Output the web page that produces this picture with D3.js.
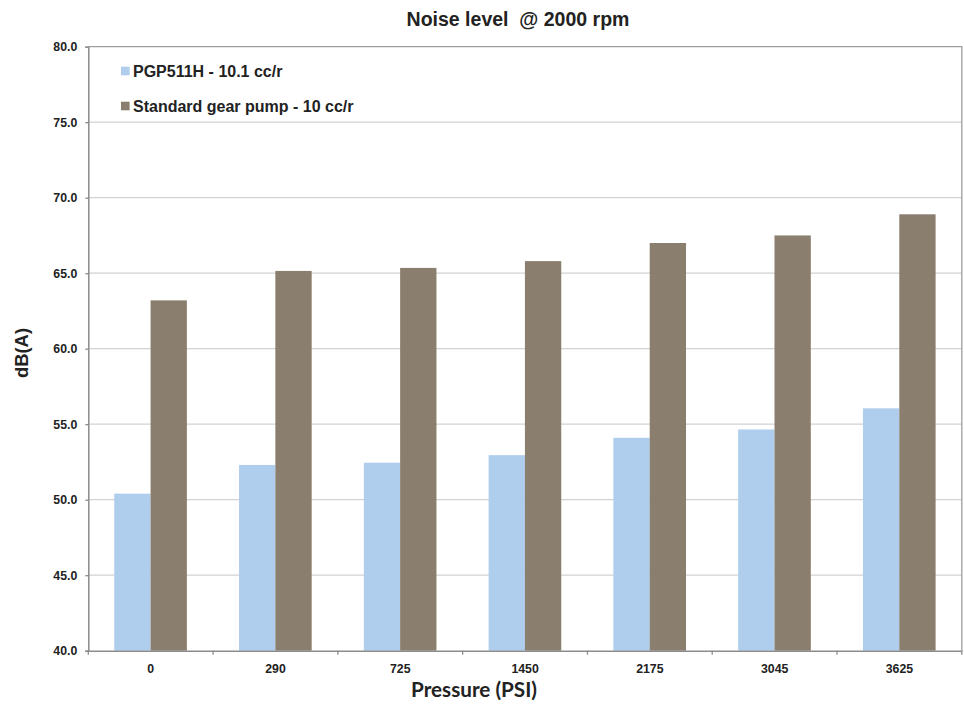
<!DOCTYPE html>
<html>
<head>
<meta charset="utf-8">
<script src="https://cdn.jsdelivr.net/npm/d3@7"></script>
<style>
  html, body { margin: 0; padding: 0; background: #fff; }
  svg { display: block; }
</style>
</head>
<body>
<div id="chart"></div>
<script>
// ---- Data ----
const categories = ["0", "290", "725", "1450", "2175", "3045", "3625"];
const seriesNames = ["PGP511H - 10.1 cc/r", "Standard gear pump - 10 cc/r"];
const pgp511hValues = [50.4, 52.3, 52.45, 52.95, 54.1, 54.65, 56.05];
const standardValues = [63.2, 65.15, 65.35, 65.8, 67.0, 67.5, 68.9];
const yTicks = [40, 45, 50, 55, 60, 65, 70, 75, 80];
const seriesColors = ["#afcdec", "#8a7e6e"];
const chartTitle = "Noise level  @ 2000 rpm";
const xAxisTitle = "Pressure (PSI)";
const yAxisTitle = "dB(A)";

// ---- Layout ----
const W = 964, H = 708;
const plot = { left: 88.3, right: 961.8, top: 46.7, bottom: 650.7 };

const svg = d3.select("#chart").append("svg")
  .attr("width", W).attr("height", H);

const x0 = d3.scaleBand().domain(categories).range([plot.left, plot.right]).padding(0);
const bw = x0.bandwidth();
const x1 = d3.scaleBand().domain(seriesNames).range([bw * 0.208, bw * 0.79]).padding(0);
const y = d3.scaleLinear().domain([40, 80]).range([plot.bottom, plot.top]);

// gridlines
svg.append("g").selectAll("line")
  .data(yTicks.filter(t => t > 40 && t < 80))
  .join("line")
  .attr("x1", plot.left).attr("x2", plot.right)
  .attr("y1", d => y(d)).attr("y2", d => y(d))
  .attr("stroke", "#d2d2d2").attr("stroke-width", 1.3);

// plot border (top & right)
svg.append("path")
  .attr("d", `M${plot.left},${y(80)}H${plot.right}V${plot.bottom}`)
  .attr("fill", "none").attr("stroke", "#9e9e9e").attr("stroke-width", 1.3);

// bars
const data = categories.map((c, i) => ({ cat: c, vals: [pgp511hValues[i], standardValues[i]] }));
const groups = svg.append("g").selectAll("g")
  .data(data).join("g")
  .attr("transform", d => `translate(${x0(d.cat)},0)`);
groups.selectAll("rect")
  .data(d => d.vals.map((v, j) => ({ name: seriesNames[j], v, j })))
  .join("rect")
  .attr("x", d => x1(d.name))
  .attr("width", x1.bandwidth())
  .attr("y", d => y(d.v))
  .attr("height", d => y(40) - y(d.v))
  .attr("fill", d => seriesColors[d.j]);

// y axis
const yAxis = d3.axisLeft(y).tickValues(yTicks).tickSize(3).tickPadding(8)
  .tickFormat(d3.format(".1f"));
const gy = svg.append("g").attr("transform", `translate(${plot.left},0)`).call(yAxis);
gy.select(".domain").attr("stroke", "#8c8c8c").attr("stroke-width", 1.5);
gy.selectAll(".tick line").attr("stroke", "#8c8c8c").attr("stroke-width", 1.3);
gy.selectAll(".tick text")
  .attr("fill", "#222")
  .style("font-family", "'Liberation Sans', Arial, sans-serif")
  .style("font-weight", "bold").style("font-size", "12.3px");

// x axis
const xAxis = d3.axisBottom(x0).tickSize(0).tickPadding(14);
const gx = svg.append("g").attr("transform", `translate(0,${plot.bottom})`).call(xAxis);
gx.select(".domain").attr("stroke", "#8c8c8c").attr("stroke-width", 1.5);
gx.selectAll(".tick text")
  .attr("fill", "#222")
  .style("font-family", "'Liberation Sans', Arial, sans-serif")
  .style("font-weight", "bold").style("font-size", "12.3px");
// category separator ticks
const edges = categories.map(c => x0(c)).concat([plot.right]);
svg.append("g").selectAll("line").data(edges).join("line")
  .attr("x1", d => d).attr("x2", d => d)
  .attr("y1", plot.bottom).attr("y2", plot.bottom + 4)
  .attr("stroke", "#8c8c8c").attr("stroke-width", 1.3);

// title
svg.append("text")
  .attr("x", 518).attr("y", 26)
  .attr("text-anchor", "middle")
  .attr("fill", "#222")
  .style("white-space", "pre")
  .style("font-family", "'Liberation Sans', Arial, sans-serif")
  .style("font-weight", "bold").style("font-size", "19.5px")
  .text(chartTitle);

// x axis title
svg.append("text")
  .attr("x", 474).attr("y", 697)
  .attr("text-anchor", "middle")
  .attr("fill", "#222")
  .style("font-family", "Lato, 'Open Sans', sans-serif")
  .style("font-weight", "bold").style("font-size", "20.5px")
  .attr("textLength", 126).attr("lengthAdjust", "spacingAndGlyphs")
  .text(xAxisTitle);

// y axis title
svg.append("text")
  .attr("transform", "translate(28,353) rotate(-90)")
  .attr("text-anchor", "middle")
  .attr("fill", "#222")
  .style("font-family", "'Liberation Sans', Arial, sans-serif")
  .style("font-weight", "bold").style("font-size", "18.5px")
  .attr("textLength", 50).attr("lengthAdjust", "spacingAndGlyphs")
  .text(yAxisTitle);

// legend
const legend = svg.append("g");
const legendRows = [71, 106];
seriesNames.forEach((name, i) => {
  legend.append("rect")
    .attr("x", 121).attr("y", legendRows[i] - 4.3)
    .attr("width", 8.6).attr("height", 8.6)
    .attr("fill", seriesColors[i]);
  legend.append("text")
    .attr("x", 133).attr("y", legendRows[i] + 5.5)
    .attr("fill", "#222")
    .style("font-family", "'Liberation Sans', Arial, sans-serif")
    .style("font-weight", "bold").style("font-size", "16px")
    .text(name);
});
</script>
</body>
</html>
